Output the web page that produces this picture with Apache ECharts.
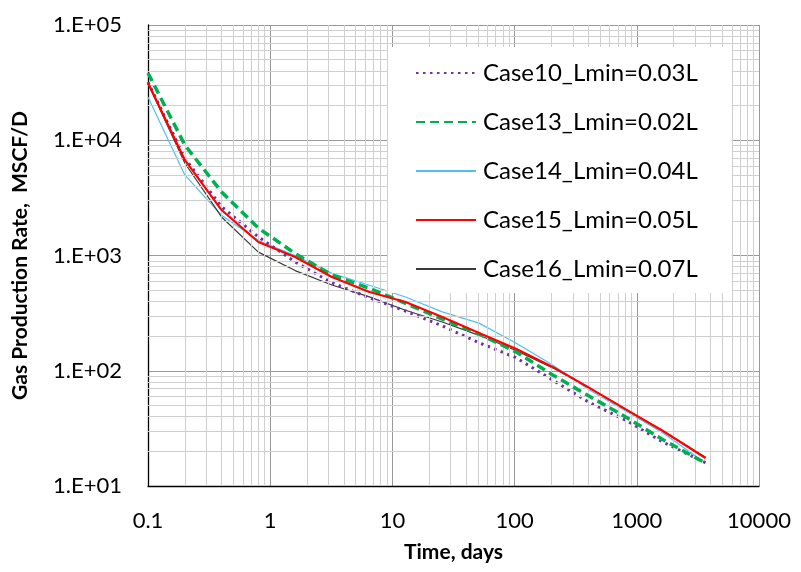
<!DOCTYPE html>
<html><head><meta charset="utf-8">
<script src="https://cdn.jsdelivr.net/npm/echarts@6/dist/echarts.min.js"></script>
<style>html,body{margin:0;padding:0;background:#fff}#c{width:801px;height:572px}</style>
</head><body><div id="c"></div>
<script>
var timeDays = [0.1, 0.2, 0.4, 0.8, 1.6, 3.2, 6.4, 12.8, 25.6, 51.2, 102.4, 204.8, 409.6, 819.2, 1638.4, 3650];
var case10 = [32000, 7000, 2650, 1450, 880, 580, 432, 330, 245, 175, 130, 83, 53, 37, 24, 15.9];
var case13 = [38300, 9100, 3560, 1730, 1040, 678, 522, 385, 280, 208, 146, 92, 60, 39.5, 25.2, 15.8];
var case14 = [23700, 5000, 2230, 1350, 1000, 700, 555, 436, 324, 259, 174, 112, 68, 44.5, 28.8, 15.8];
var case15 = [31500, 6750, 2480, 1310, 970, 650, 485, 395, 293, 213, 155, 108, 71, 46, 30, 17.5];
var case16 = [31000, 6350, 2160, 1070, 740, 555, 440, 335, 265, 203, 150, 106, 71, 46, 30, 17.8];
var seriesNames = ['Case10_Lmin=0.03L', 'Case13_Lmin=0.02L', 'Case14_Lmin=0.04L', 'Case15_Lmin=0.05L', 'Case16_Lmin=0.07L'];
var xTickLabels = {'0.1': '0.1', '1': '1', '10': '10', '100': '100', '1000': '1000', '10000': '10000'};
var yTickLabels = {'1': '1.E+01', '2': '1.E+02', '3': '1.E+03', '4': '1.E+04', '5': '1.E+05'};

function pairs(xs, ys) { return xs.map(function (x, i) { return [x, ys[i]]; }); }

// minor grid positions (2..9 within each decade)
var minorX = [], minorY = [];
[0.1, 1, 10, 100, 1000].forEach(function (d) { for (var k = 2; k <= 9; k++) minorX.push({xAxis: +(d * k).toPrecision(6)}); });
[10, 100, 1000, 10000].forEach(function (d) { for (var k = 2; k <= 9; k++) minorY.push({yAxis: d * k}); });

var FONT = 'Lato';
var chart = echarts.init(document.getElementById('c'), null, {renderer: 'canvas'});
var styles = [
  {color: '#7030A0', width: 3, type: [2.5, 4.5], z: 4},
  {color: '#00B050', width: 3.5, type: [9, 5], z: 5},
  {color: '#4EC0F0', width: 1.2, type: 'solid', z: 3},
  {color: '#FF0000', width: 2.2, type: 'solid', z: 6},
  {color: '#3A3A3A', width: 1.2, type: 'solid', z: 3}
];
var dataSets = [case10, case13, case14, case15, case16];
var series = [{
  name: 'grid', type: 'line', data: [[0.1, 10]], symbol: 'none', silent: true, z: 1,
  lineStyle: {opacity: 0},
  markLine: {
    silent: true, symbol: ['none', 'none'], label: {show: false}, animation: false,
    lineStyle: {color: '#cfcfcf', width: 1, type: 'solid'},
    emphasis: {disabled: true},
    data: minorX.concat(minorY)
  }
}];
dataSets.forEach(function (d, i) {
  var s = styles[i];
  series.push({
    name: seriesNames[i], type: 'line', data: pairs(timeDays, d), symbol: 'none', showSymbol: false, z: s.z,
    lineStyle: {color: s.color, width: s.width, type: s.type, cap: 'butt'},
    itemStyle: {color: s.color}
  });
});

chart.setOption({
  animation: false,
  backgroundColor: '#fff',
  grid: {left: 148, right: 42, top: 25, bottom: 86, containLabel: false},
  legend: {
    data: seriesNames, orient: 'vertical', left: 388, top: 47, z: 50, zlevel: 1,
    backgroundColor: '#fff', padding: [14, 34, 12, 27],
    itemWidth: 60, itemHeight: 20, itemGap: 25,
    itemStyle: {opacity: 0},
    textStyle: {fontFamily: FONT, fontSize: 24, color: '#000', padding: [0, 0, 0, 2]}
  },
  xAxis: {
    type: 'log', logBase: 10, min: 0.1, max: 10000,
    name: 'Time, days', nameLocation: 'middle', nameGap: 56,
    nameTextStyle: {fontFamily: FONT, fontSize: 21, fontWeight: 'bold', color: '#000'},
    axisLine: {show: true, onZero: false, lineStyle: {color: '#000', width: 1.3}},
    axisTick: {show: false},
    axisLabel: {fontFamily: FONT, fontSize: 22, color: '#000', margin: 24,
      formatter: function (v) { var k = String(+v.toPrecision(6)); return xTickLabels[k] !== undefined ? xTickLabels[k] : ''; }},
    splitLine: {show: true, lineStyle: {color: '#999', width: 1}}
  },
  yAxis: {
    type: 'log', logBase: 10, min: 10, max: 100000,
    name: 'Gas Production Rate,  MSCF/D', nameLocation: 'middle', nameGap: 117,
    nameTextStyle: {fontFamily: FONT, fontSize: 21, fontWeight: 'bold', color: '#000'},
    axisLine: {show: true, onZero: false, lineStyle: {color: '#000', width: 1.3}},
    axisTick: {show: false},
    axisLabel: {fontFamily: FONT, fontSize: 22, color: '#000', margin: 26,
      formatter: function (v) { var k = String(Math.round(Math.log10(v))); return yTickLabels[k] || ''; }},
    splitLine: {show: true, lineStyle: {color: '#999', width: 1}}
  },
  series: series
});
</script></body></html>
